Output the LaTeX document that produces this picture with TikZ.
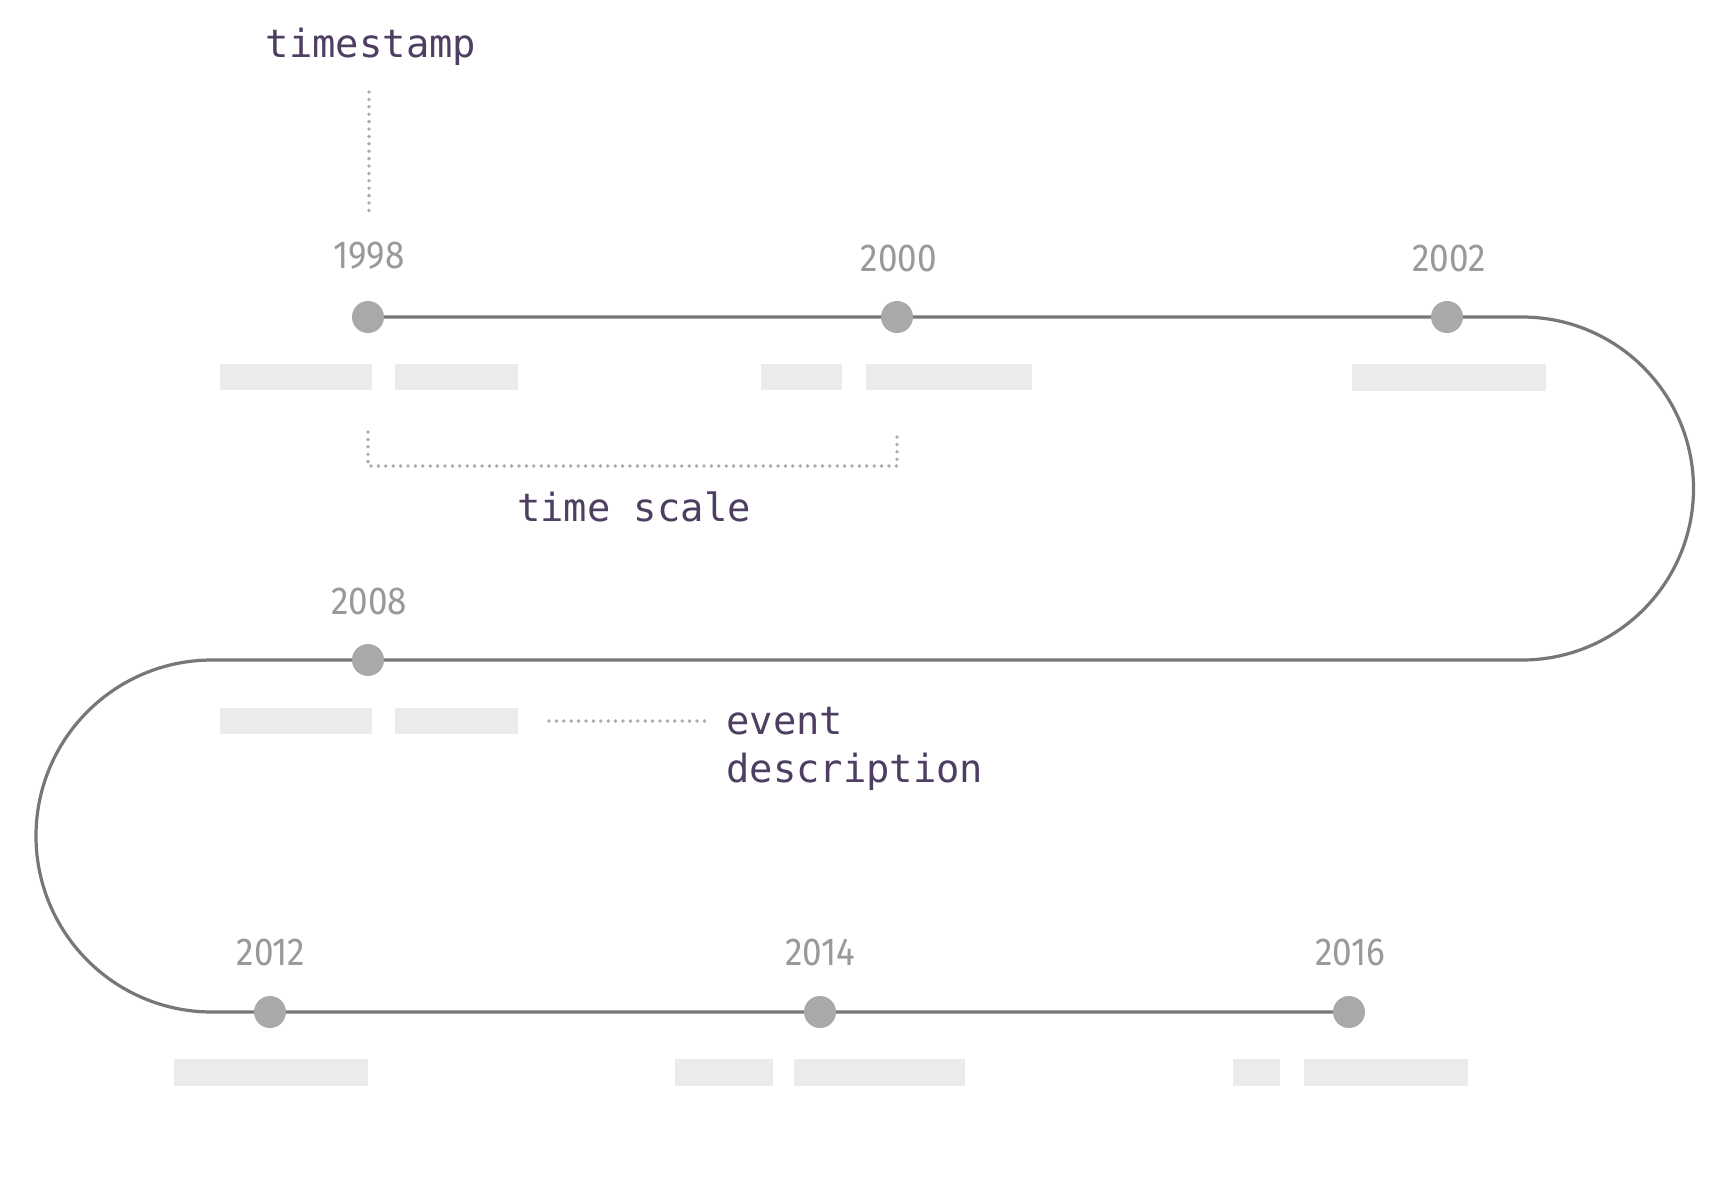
\documentclass[tikz,border=0pt]{standalone}
\usepackage{fontspec}
\newfontfamily\yearfont[FakeStretch=0.9]{Fira Sans}
\newfontfamily\monofont{DejaVu Sans Mono}
\definecolor{track}{HTML}{777777}
\definecolor{dotc}{HTML}{A9A9A9}
\definecolor{yearc}{HTML}{999999}
\definecolor{barc}{HTML}{EBEBEB}
\definecolor{notec}{HTML}{4E3F62}
\definecolor{dotline}{HTML}{AAAAAA}
\tikzset{
  evdot/.style={circle, fill=dotc, minimum size=16pt, inner sep=0pt},
  yearlbl/.style={font=\yearfont\fontsize{19.5pt}{22pt}\selectfont, text=yearc, inner sep=0pt},
  note/.style={font=\monofont\fontsize{19.4pt}{24pt}\selectfont, text=notec, inner sep=0pt},
  bar/.style={fill=barc, draw=none},
  dotted guide/.style={draw=dotline, line width=1.9pt, line cap=round, dash pattern=on 0pt off 3.7pt},
  trackline/.style={draw=track, line width=1.6pt}
}
\begin{document}
\begin{tikzpicture}[x=0.5pt, y=-0.5pt]
\fill[white] (0,0) rectangle (1724,1196);
\useasboundingbox (0,0) rectangle (1724,1196);

% track coordinates
\coordinate (r1) at (1522,317);
\coordinate (r2) at (1522,660);
\coordinate (l1) at (212,660);
\coordinate (l2) at (212,1012);

% event dots (positions)
\coordinate (p1998) at (368,317);
\coordinate (p2000) at (897,317);
\coordinate (p2002) at (1447,317);
\coordinate (p2008) at (368,660);
\coordinate (p2012) at (270,1012);
\coordinate (p2014) at (820,1012);
\coordinate (p2016) at (1349,1012);

% the track
\draw[trackline] (p1998) -- (r1) arc[start angle=90, end angle=-90, radius=85.75pt]
  -- (l1) arc[start angle=90, end angle=270, radius=88pt] -- (p2016);

% dots
\node[evdot] (d1998) at (p1998) {};
\node[evdot] (d2000) at (p2000) {};
\node[evdot] (d2002) at (p2002) {};
\node[evdot] (d2008) at (p2008) {};
\node[evdot] (d2012) at (p2012) {};
\node[evdot] (d2014) at (p2014) {};
\node[evdot] (d2016) at (p2016) {};

% years
\node[yearlbl] (y1998) at (369,256) {1998};
\node[yearlbl] (y2000) at (899,258) {2000};
\node[yearlbl] (y2002) at (1449,258) {2002};
\node[yearlbl] (y2008) at (369,601) {2008};
\node[yearlbl] (y2012) at (271,952) {2012};
\node[yearlbl] (y2014) at (820,952) {2014};
\node[yearlbl] (y2016) at (1350,952) {2016};

% placeholder bars
\fill[bar] (220,364) rectangle (372,390);
\fill[bar] (395,364) rectangle (518,390);
\fill[bar] (761,364) rectangle (842,390);
\fill[bar] (866,364) rectangle (1032,390);
\fill[bar] (1352,364) rectangle (1546,391);
\fill[bar] (220,708) rectangle (372,734);
\node[bar, minimum width=61.5pt, minimum height=13pt, inner sep=0pt] (ev2008b) at (456.5,721) {};
\fill[bar] (174,1059) rectangle (368,1086);
\fill[bar] (675,1059) rectangle (773,1086);
\fill[bar] (794,1059) rectangle (965,1086);
\fill[bar] (1233,1059) rectangle (1280,1086);
\fill[bar] (1304,1059) rectangle (1468,1086);

% annotations
\node[note] (ts) at (371,47) {timestamp};
\coordinate (tsb) at (369,211);
\draw[dotted guide] (369,92) -- (tsb);

\coordinate (sa) at (368,432);
\coordinate (sb) at (897,432);
\draw[dotted guide] (sa) -- (368,466) -- (897,466) -- (sb);
\node[note] (tscale) at (634,507) {time scale};

\node[note, anchor=west, align=left] (evd) at (726,749) {event\\description};
\coordinate (ea) at (549,721);
\draw[dotted guide] (ea) -- (709,721);
\end{tikzpicture}
\end{document}
